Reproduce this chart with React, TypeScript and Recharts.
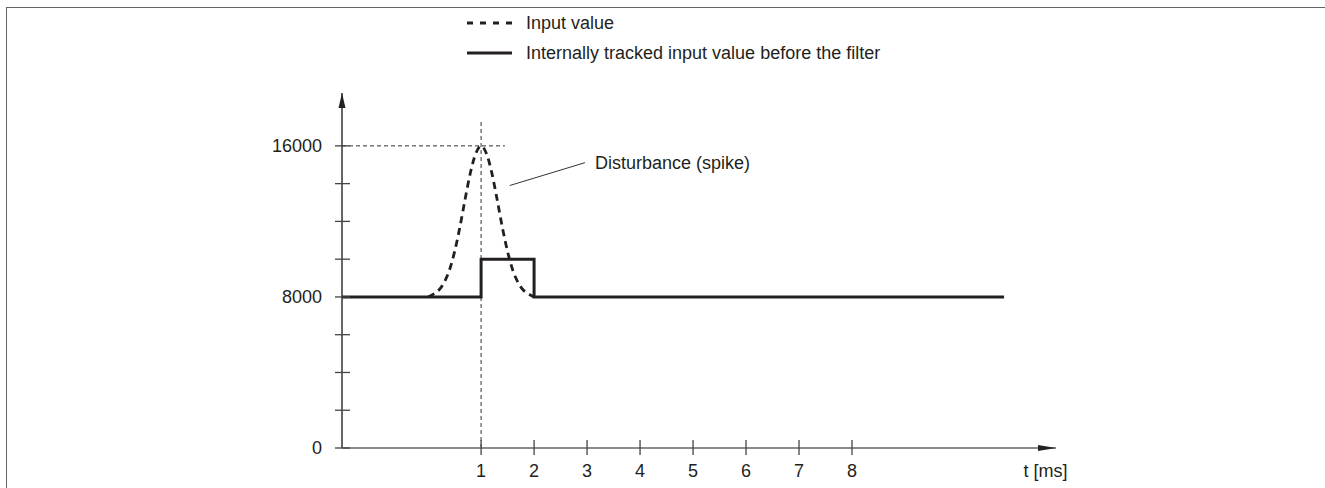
import React from "react";
import { LineChart, Line, XAxis, YAxis, ReferenceLine, ReferenceDot, Legend } from "recharts";

const FONT = "'Liberation Sans', Arial, sans-serif";
const INK = "#231f20";

const T_MIN = -1.625;
const T_MAX = 11.85;
const Y_MAX = 18800;

const xTicks = [1, 2, 3, 4, 5, 6, 7, 8];
const yTicks = [0, 2000, 4000, 6000, 8000, 10000, 12000, 14000, 16000];
const yLabels = [0, 8000, 16000];

// internally tracked input value (step)
const trackedT = [-1.625, 1, 1, 2, 2, 10.87];
const trackedV = [8000, 8000, 10000, 10000, 8000, 8000];

// input value around the spike (it sits under the solid line elsewhere)
const inputT = [0, 0.1, 0.2, 0.3, 0.4, 0.5, 0.6, 0.7, 0.8, 0.9, 1.0, 1.1, 1.2, 1.3, 1.4, 1.5, 1.6, 1.7, 1.8, 1.9, 2.0];
const inputV = [8000, 8150, 8350, 8750, 9400, 10400, 11700, 13200, 14600, 15600, 16000, 15600, 14600, 13200, 11700, 10400, 9400, 8750, 8350, 8150, 8000];

const legendItems = [
  { label: "Input value", dash: "6 7", width: 2.8 },
  { label: "Internally tracked input value before the filter", dash: undefined, width: 3 },
];

const trackedData = trackedT.map((t, i) => ({ t, v: trackedV[i] }));
const inputData = inputT.map((t, i) => ({ t, v: inputV[i] }));

const YTick = (props: any) => {
  const { x, y, payload } = props;
  return (
    <g>
      <line x1={x - 7} x2={x + 8} y1={y} y2={y} stroke="#444" strokeWidth={1.3} />
      {yLabels.includes(payload.value) && (
        <text x={x - 20} y={y} dy="0.35em" textAnchor="end" fontSize={18} fontFamily={FONT} fill={INK}>
          {payload.value}
        </text>
      )}
    </g>
  );
};

const XTick = (props: any) => {
  const { x, y, payload } = props;
  return (
    <g>
      <line x1={x} x2={x} y1={y - 8} y2={y + 7} stroke="#444" strokeWidth={1.3} />
      <text x={x} y={y + 23} dy="0.35em" textAnchor="middle" fontSize={18} fontFamily={FONT} fill={INK}>
        {payload.value}
      </text>
    </g>
  );
};

const renderLegend = () => (
  <svg width={460} height={64} style={{ display: "block" }}>
    {legendItems.map((it, i) => (
      <g key={it.label}>
        <line x1={0} x2={45} y1={13 + 30 * i} y2={13 + 30 * i} stroke={INK} strokeWidth={it.width} strokeDasharray={it.dash} />
        <text x={59} y={13 + 30 * i} dy="0.35em" fontSize={18} fontFamily={FONT} fill={INK}>
          {it.label}
        </text>
      </g>
    ))}
  </svg>
);

export default function App() {
  return (
    <div style={{ position: "absolute", left: 0, top: 0, width: 1325, height: 488, background: "#fff" }}>
      <div
        style={{
          position: "absolute",
          left: 6,
          top: 7,
          right: 0,
          bottom: 0,
          borderTop: "1.5px solid #666",
          borderLeft: "1.5px solid #666",
        }}
      />
      <LineChart width={1325} height={488} margin={{ top: 93, right: 269, left: 282, bottom: 10 }}>
        <XAxis
          type="number"
          dataKey="t"
          domain={[T_MIN, T_MAX]}
          allowDataOverflow
          ticks={xTicks}
          interval={0}
          height={30}
          tickSize={0}
          tickMargin={0}
          tickLine={false}
          axisLine={{ stroke: "#8c8c8c", strokeWidth: 2 }}
          tick={<XTick />}
        />
        <YAxis
          type="number"
          domain={[0, Y_MAX]}
          allowDataOverflow
          ticks={yTicks}
          interval={0}
          width={60}
          tickSize={0}
          tickMargin={0}
          tickLine={false}
          axisLine={{ stroke: "#333", strokeWidth: 1.5 }}
          tick={<YTick />}
        />
        <Legend
          layout="vertical"
          align="center"
          verticalAlign="middle"
          content={renderLegend}
          wrapperStyle={{ left: 467, top: 10, width: 460, height: 64 }}
        />
        <ReferenceLine
          segment={[{ x: T_MIN, y: 16000 }, { x: 1.45, y: 16000 }]}
          stroke="#333"
          strokeWidth={1}
          strokeDasharray="4 3"
          ifOverflow="visible"
        />
        <ReferenceLine
          segment={[{ x: 1, y: 0 }, { x: 1, y: 17300 }]}
          stroke="#333"
          strokeWidth={1}
          strokeDasharray="4 3"
          ifOverflow="visible"
        />
        <ReferenceLine
          segment={[{ x: 1.54, y: 13900 }, { x: 2.96, y: 15110 }]}
          stroke="#333"
          strokeWidth={1}
          ifOverflow="visible"
        />
        <ReferenceDot
          x={3.15}
          y={15110}
          ifOverflow="visible"
          shape={(p: any) => (
            <text x={p.cx} y={p.cy} dy="0.35em" textAnchor="start" fontSize={18} fontFamily={FONT} fill={INK}>
              Disturbance (spike)
            </text>
          )}
        />
        <ReferenceDot
          x={11.65}
          y={0}
          ifOverflow="visible"
          shape={(p: any) => (
            <text x={p.cx} y={p.cy + 23} dy="0.35em" textAnchor="middle" fontSize={18} fontFamily={FONT} fill={INK}>
              t [ms]
            </text>
          )}
        />
        <ReferenceDot
          x={T_MIN}
          y={Y_MAX}
          ifOverflow="visible"
          shape={(p: any) => (
            <polygon points={`${p.cx},${p.cy} ${p.cx - 3.5},${p.cy + 15} ${p.cx + 3.5},${p.cy + 15}`} fill="#222" />
          )}
        />
        <ReferenceDot
          x={T_MAX}
          y={0}
          ifOverflow="visible"
          shape={(p: any) => (
            <polygon points={`${p.cx},${p.cy} ${p.cx - 18},${p.cy - 3} ${p.cx - 18},${p.cy + 3}`} fill="#222" />
          )}
        />
        <Line
          data={inputData}
          dataKey="v"
          type="monotone"
          stroke={INK}
          strokeWidth={2.8}
          strokeDasharray="7 5"
          dot={false}
          activeDot={false}
          isAnimationActive={false}
        />
        <Line
          data={trackedData}
          dataKey="v"
          type="linear"
          stroke={INK}
          strokeWidth={3}
          dot={false}
          activeDot={false}
          isAnimationActive={false}
        />
      </LineChart>
    </div>
  );
}
